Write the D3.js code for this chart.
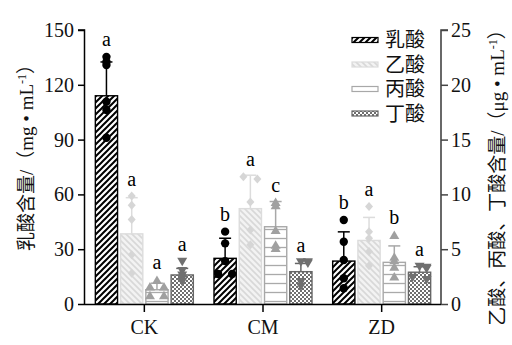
<!DOCTYPE html>
<html><head><meta charset="utf-8">
<script src="https://cdn.jsdelivr.net/npm/d3@7"></script>
<style>body{margin:0;background:#fff}svg{display:block}text{font-family:"Liberation Serif","Noto Sans CJK SC",serif;-webkit-font-smoothing:antialiased}</style>
</head><body>
<svg id="c" width="512" height="345"></svg>
<script>
const categories = ["CK","CM","ZD"];
const seriesNames = ["乳酸","乙酸","丙酸","丁酸"];
const lacticMean = [114, 25, 23.5];
const lacticSD = [18.5, 11, 16];
const aceticMean = [6.4, 8.7, 5.8];
const aceticSD = [3.3, 3.05, 2.1];
const propionicMean = [1.3, 7.05, 3.8];
const propionicSD = [0.6, 2.3, 1.5];
const butyricMean = [2.65, 2.95, 2.9];
const butyricSD = [0.6, 0.75, 0.5];
const lacticPts = [[135.3,132.6,130.8,110.7,106.2,91.0],[39.6,33.2,23.5,16.4,16.4],[46,34.1,24.1,14.1,8.6]];
const aceticPts = [[9.85,9.0,7.7,4.5,2.8],[11.6,11.4,9.3,6.75,5.4],[8.9,6.6,6.0,4.8,3.5]];
const propionicPts = [[2.2,1.6,1.6,0.8,0.8],[9.3,9.0,6.75,5.4,5.1],[6.3,4.3,4.0,3.4,2.5]];
const butyricPts = [[3.86,3.0,2.6,2.3,2.0],[3.8,3.8,3.7,2.0,1.6],[3.4,3.3,3.2,2.4,2.2]];
const lacticLetters = ["a","b","b"];
const aceticLetters = ["a","a","a"];
const propionicLetters = ["a","c","b"];
const butyricLetters = ["a","a","a"];
const leftTicks = [0,30,60,90,120,150];
const rightTicks = [0,5,10,15,20,25];

const svg = d3.select("#c");
const X0 = 85, X1 = 441, Y0 = 304, Y1 = 30;
const x = d3.scaleBand().domain(categories).range([X0, X1]);
const xi = d3.scaleBand().domain(seriesNames).range([-49, 49]).paddingInner(0.12);
const yL = d3.scaleLinear().domain([0,150]).range([Y0, Y1]);
const yR = d3.scaleLinear().domain([0,25]).range([Y0, Y1]);

const defs = svg.append("defs");
function pat(id, w, h, draw){ const p = defs.append("pattern").attr("id",id).attr("patternUnits","userSpaceOnUse").attr("width",w).attr("height",h); draw(p); }
pat("pL",6,6,p=>{p.append("rect").attr("width",6).attr("height",6).attr("fill","#fff");
  p.append("path").attr("d","M0,6L6,0M-1,1L1,-1M5,7L7,5").attr("stroke","#000").attr("stroke-width",2);});
pat("pA",6,6,p=>{p.append("rect").attr("width",6).attr("height",6).attr("fill","#f3f3f3");
  p.append("path").attr("d","M0,0L6,6M-1,5L1,7M5,-1L7,1").attr("stroke","#d8d8d8").attr("stroke-width",1.6);});
pat("pP",9,9,p=>{p.append("rect").attr("width",9).attr("height",9).attr("fill","#fff");
  p.append("path").attr("d","M0,4.5H9").attr("stroke","#aaa").attr("stroke-width",1.3);});
pat("pB",4,4,p=>{p.append("rect").attr("width",4).attr("height",4).attr("fill","#6f6f6f");
  p.append("rect").attr("width",2).attr("height",2).attr("fill","#fff");
  p.append("rect").attr("x",2).attr("y",2).attr("width",2).attr("height",2).attr("fill","#fff");});

const series = [
  {name:seriesNames[0], mean:lacticMean, sd:lacticSD, pts:lacticPts, letters:lacticLetters, y:yL, fill:"url(#pL)", stroke:"#000", mk:"circle", mc:"#000"},
  {name:seriesNames[1], mean:aceticMean, sd:aceticSD, pts:aceticPts, letters:aceticLetters, y:yR, fill:"url(#pA)", stroke:"#dcdcdc", mk:"diamond", mc:"#d6d6d6"},
  {name:seriesNames[2], mean:propionicMean, sd:propionicSD, pts:propionicPts, letters:propionicLetters, y:yR, fill:"url(#pP)", stroke:"#a8a8a8", mk:"triUp", mc:"#a0a0a0"},
  {name:seriesNames[3], mean:butyricMean, sd:butyricSD, pts:butyricPts, letters:butyricLetters, y:yR, fill:"url(#pB)", stroke:"#666", mk:"triDown", mc:"#707070"}
];
function markerPath(type){
  if(type==="circle") return d3.symbol(d3.symbolCircle, 55)();
  if(type==="diamond") return "M0,-4.5L4,0L0,4.5L-4,0Z";
  if(type==="triUp") return "M0,-4.5L5,4L-5,4Z";
  return "M0,4.5L5,-4L-5,-4Z";
}
const bw = xi.bandwidth();
series.forEach(s=>{
  categories.forEach((c,i)=>{
    const cx = x(c) + x.bandwidth()/2 + xi(s.name) + bw/2;
    const g = svg.append("g");
    const yTop = s.y(s.mean[i]);
    g.append("rect").attr("x",cx-bw/2).attr("y",yTop).attr("width",bw).attr("height",Y0-yTop)
      .attr("fill",s.fill).attr("stroke",s.stroke).attr("stroke-width",1.4);
    const eTop = s.y(s.mean[i]+s.sd[i]);
    g.append("line").attr("x1",cx).attr("x2",cx).attr("y1",yTop).attr("y2",eTop).attr("stroke",s.stroke).attr("stroke-width",1.5);
    g.append("line").attr("x1",cx-6).attr("x2",cx+6).attr("y1",eTop).attr("y2",eTop).attr("stroke",s.stroke).attr("stroke-width",1.5);
    // dodge only points that nearly coincide
    const placed = [];
    const vals = s.pts[i].slice().sort((a,b)=>b-a);
    vals.forEach(v=>{
      const py = s.y(v);
      const offs = [0,-7,7];
      let k = 0;
      while(placed.some(p=>Math.abs(p.x-offs[k])<8 && Math.abs(p.y-py)<3) && k<offs.length-1) k++;
      placed.push({x:offs[k],y:py});
    });
    // if a coincident group has one centered member and one side member, spread symmetrically
    placed.forEach(p=>{
      const grp = placed.filter(q=>Math.abs(q.y-p.y)<3);
      if(grp.length===2){ grp[0].x=-7; grp[1].x=7; }
    });
    placed.forEach(p=>{
      g.append("path").attr("d",markerPath(s.mk)).attr("transform",`translate(${cx+p.x},${p.y})`).attr("fill",s.mc);
    });
    const minY = Math.min(eTop, ...placed.map(p=>p.y-4.5));
    g.append("text").attr("x",cx).attr("y",minY-6).attr("text-anchor","middle").attr("font-size",20).text(s.letters[i]);
  });
});

// axes
const axL = svg.append("g").attr("transform",`translate(${X0},0)`).call(d3.axisLeft(yL).tickValues(leftTicks).tickSize(7).tickPadding(4));
axL.select(".domain").attr("d",`M-0.5,${Y0}V${Y1}H-7`).attr("stroke","#000").attr("stroke-width",1.5);
axL.selectAll(".tick line").attr("stroke-width",1.5);
axL.selectAll("text").attr("font-size",20).attr("font-family","Liberation Serif").attr("fill","#111");
const axR = svg.append("g").attr("transform",`translate(${X1},0)`).call(d3.axisRight(yR).tickValues(rightTicks).tickSize(7).tickPadding(3));
axR.select(".domain").attr("d",`M0,${Y0}V${Y1}H7`).attr("stroke","#444").attr("stroke-width",1.6);
axR.selectAll(".tick line").attr("stroke","#444").attr("stroke-width",1.5);
axR.selectAll("text").attr("font-size",20).attr("font-family","Liberation Serif").attr("fill","#111");
const axB = svg.append("g").attr("transform",`translate(0,${Y0})`).call(d3.axisBottom(x).tickSize(8).tickPadding(8).tickSizeOuter(0));
axB.select(".domain").attr("d",`M${X0},0.5H${X1}`).attr("stroke","#000").attr("stroke-width",1.5);
axB.selectAll(".tick line").attr("stroke-width",1.5);
axB.selectAll("text").attr("font-size",20).attr("font-family","Liberation Serif").attr("fill","#111");

// titles
const tl = svg.append("text").attr("transform","translate(33,153) rotate(-90)").attr("text-anchor","middle").attr("font-size",19).attr("fill","#111");
tl.append("tspan").text("乳酸含量/（mg • mL");
tl.append("tspan").attr("dy",-7).attr("font-size",12).text("-1");
tl.append("tspan").attr("dy",7).text("）");
const tr = svg.append("text").attr("transform","translate(504,173) rotate(-90)").attr("text-anchor","middle").attr("font-size",19).attr("fill","#111");
tr.append("tspan").text("乙酸、丙酸、丁酸含量/（μg • mL");
tr.append("tspan").attr("dy",-7).attr("font-size",12).text("-1");
tr.append("tspan").attr("dy",7).text("）");

// legend
const lg = svg.append("g");
series.forEach((s,i)=>{
  const cy = 40 + i*24.5;
  lg.append("rect").attr("x",352).attr("y",cy-2.5).attr("width",26).attr("height",5).attr("fill",s.fill).attr("stroke",s.stroke).attr("stroke-width",1.2);
  lg.append("text").attr("x",385).attr("y",cy+7).attr("font-size",20).attr("fill","#111").text(s.name);
});
</script>
</body></html>
